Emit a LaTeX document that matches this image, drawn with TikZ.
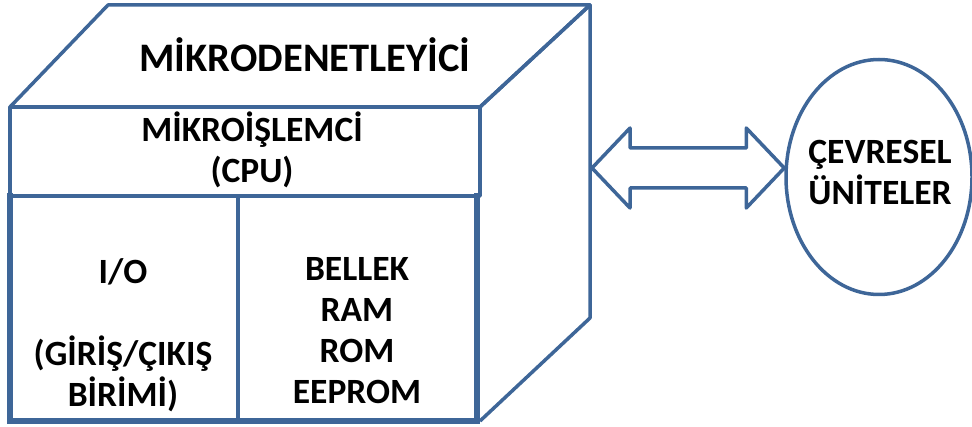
\documentclass[tikz,border=0pt]{standalone}
\usepackage{fontspec}
\setmainfont{Carlito}
\usetikzlibrary{shapes.geometric,calc}
\definecolor{edge}{RGB}{62,102,152}
\begin{document}
\begin{tikzpicture}[x=1pt,y=-1pt,
  face/.style={draw=edge,line width=3.5pt,line join=round},
  heavy/.style={draw=edge,line width=6pt,line join=miter},
  lbl/.style={font=\bfseries\fontsize{35.5}{41}\selectfont,align=center,inner sep=0pt},
  title/.style={font=\bfseries\fontsize{40.5}{46}\selectfont,inner sep=0pt},
  unit/.style={ellipse,draw=edge,line width=3.5pt,minimum width=186pt,minimum height=235pt,inner sep=0pt}]
\useasboundingbox (0,0) rectangle (972,427);
% corners of the box
\coordinate (fa) at (10,107);
\coordinate (fb) at (480,107);
\coordinate (fc) at (480,421);
\coordinate (ba) at (108,5);
\coordinate (bb) at (590,5);
\coordinate (bc) at (590,318);
\coordinate (cpuL) at (10,196);
\coordinate (cpuR) at (480,196);
\coordinate (lowTL) at (10,193);
\coordinate (lowBL) at (10,421);
\coordinate (lowBR) at (477,421);
\coordinate (lowTR) at (477,193);
\coordinate (midT) at (238,196);
\coordinate (midB) at (238,421);
% top face, side face and the CPU strip
\draw[face] (fa) -- (ba) -- (bb) -- (fb) -- cycle;
\draw[face] (fb) -- (bb) -- (bc) -- (fc);
% lower part of the front face
\draw[heavy] (lowTL) -- (lowBL) -- (lowBR) -- (lowTR);
\draw[face] (fa) rectangle (cpuR);
\draw[face] (midT) -- (midB);
% labels
\node[title] (mcu) at (305,55) {MİKRODENETLEYİCİ};
\node[lbl] (cpu) at (252,150) {MİKROİŞLEMCİ\\(CPU)};
\node[lbl] (io1) at (123,272) {I/O};
\node[lbl] (io2) at (123,374) {(GİRİŞ/ÇIKIŞ\\BİRİMİ)};
\node[lbl] (mem) at (357,331) {BELLEK\\RAM\\ROM\\EEPROM};
% peripherals
\node[unit] (per) at (879,177) {};
\node[lbl] (pertext) at (880,172) {ÇEVRESEL\\ÜNİTELER};
% two-way block arrow between the box and the peripherals
\coordinate (lt) at (592,168);
\coordinate (rt) at (lt -| per.west);
\draw[face] (lt) -- ++(38,-40) -- ++(0,20) -- ($(rt)+(-38,-20)$) -- ++(0,-20) -- (rt)
  -- ++(-38,40) -- ++(0,-20) -- ($(lt)+(38,20)$) -- ++(0,20) -- cycle;
\end{tikzpicture}
\end{document}
